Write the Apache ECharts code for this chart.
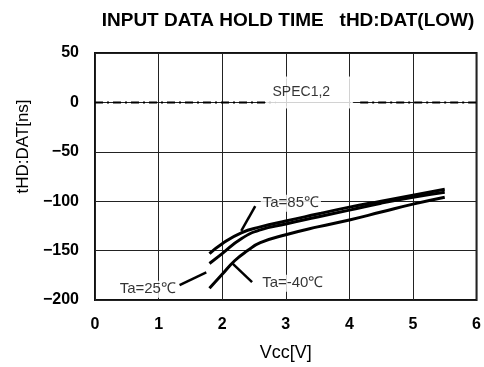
<!DOCTYPE html>
<html><head><meta charset="utf-8">
<script src="https://cdn.jsdelivr.net/npm/echarts@6/dist/echarts.min.js"></script>
<style>html,body{margin:0;padding:0;background:#fff}#c{width:484px;height:367px}</style>
</head><body><div id="c"></div>
<script>
const titleText = 'INPUT DATA HOLD TIME   tHD:DAT(LOW)';
const xTicks = [0, 1, 2, 3, 4, 5, 6];
const yTicks = [50, 0, -50, -100, -150, -200];
const vcc85 = [1.8, 2.0, 2.3, 2.6, 3.0, 3.5, 4.0, 4.5, 5.0, 5.5];
const ta85 = [-153, -143, -132, -126, -120, -113, -106, -100, -94, -88];
const vcc25 = [1.8, 2.0, 2.3, 2.6, 3.0, 3.5, 4.0, 4.5, 5.0, 5.5];
const ta25 = [-163, -153, -138, -129, -123, -116, -109, -102, -96, -91];
const vccM40 = [1.8, 2.0, 2.2, 2.4, 2.6, 3.0, 3.5, 4.0, 4.5, 5.0, 5.5];
const taM40 = [-188, -174, -160, -150, -142, -134, -126, -119, -111, -103, -96];
const specX = [0, 2.84, 3.5, 4.17, 6];
const specY = [0, 0, '-', 0, 0];
const specLabel = 'SPEC1,2';
const specLabelPos = [3.37, 10];
const curveLabels = ['Ta=85℃', 'Ta=25℃', 'Ta=-40℃'];
const labelPos = [[3.08, -102], [0.83, -189], [3.11, -183]];
const leaderFrom = [[2.52, -105], [1.33, -185], [2.16, -163]];
const leaderTo = [[2.30, -130], [1.75, -172], [2.47, -182]];

const zip = (xs, ys) => xs.map((x, i) => [x, ys[i]]);
const font = 'Liberation Sans, Arial, sans-serif';
const curveStyle = { color: '#000', width: 3 };
const numFmt = v => (v < 0 ? '\u2212' + Math.abs(v) : String(v));

const chart = echarts.init(document.getElementById('c'));
chart.setOption({
  animation: false,
  title: { text: titleText, left: 283, top: 6, textAlign: 'center',
    textStyle: { fontFamily: font, fontSize: 19, fontWeight: 'bold', color: '#000' } },
  grid: { left: 95, right: 4, top: 53, bottom: 64, show: true, borderColor: '#111', borderWidth: 2 },
  xAxis: { type: 'value', min: 0, max: 6, interval: 1,
    name: 'Vcc[V]', nameLocation: 'middle', nameGap: 44,
    nameTextStyle: { fontFamily: font, fontSize: 18, color: '#000' },
    axisLine: { show: false }, axisTick: { show: false },
    axisLabel: { fontFamily: font, fontSize: 16, fontWeight: 'bold', color: '#000', margin: 17, formatter: numFmt },
    splitLine: { lineStyle: { color: '#222', width: 1 } } },
  yAxis: { type: 'value', min: -200, max: 50, interval: 50,
    name: 'tHD:DAT[ns]', nameLocation: 'middle', nameGap: 50,
    nameTextStyle: { fontFamily: font, fontSize: 17, color: '#000', padding: [0, 0, 0, 60] },
    axisLine: { show: false }, axisTick: { show: false },
    axisLabel: { fontFamily: font, fontSize: 16, fontWeight: 'bold', color: '#000', margin: 16, formatter: numFmt },
    splitLine: { lineStyle: { color: '#222', width: 1 } } },
  series: [
    { name: 'spec', type: 'line', symbol: 'none', silent: true, connectNulls: false, data: zip(specX, specY),
      lineStyle: { color: '#000', width: 2, type: [8, 4, 2, 4] }, z: 3 },
    { name: curveLabels[0], type: 'line', smooth: true, symbol: 'none', data: zip(vcc85, ta85), lineStyle: curveStyle, z: 5 },
    { name: curveLabels[1], type: 'line', smooth: true, symbol: 'none', data: zip(vcc25, ta25), lineStyle: curveStyle, z: 5 },
    { name: curveLabels[2], type: 'line', smooth: true, symbol: 'none', data: zip(vccM40, taM40), lineStyle: curveStyle, z: 5 },
    { name: 'annotations', type: 'scatter', symbolSize: 0, silent: true, z: 10, zlevel: 1,
      data: labelPos.map((p, i) => ({ value: p, label: { show: true, position: 'inside', formatter: curveLabels[i],
        fontFamily: font, fontSize: 15, color: '#000', backgroundColor: '#fff', padding: [1, 2] } }))
        .concat([{ value: specLabelPos, label: { show: true, position: 'inside', formatter: specLabel,
          fontFamily: font, fontSize: 14, lineHeight: 16, color: '#000', backgroundColor: '#fff',
          borderColor: '#fff', borderWidth: 1, padding: [7, 22, 7, 6] } }]),
      markLine: { silent: true, symbol: 'none', label: { show: false },
        lineStyle: { color: '#000', width: 2.5, type: 'solid' },
        data: leaderFrom.map((p, i) => [{ coord: p }, { coord: leaderTo[i] }]) } }
  ]
});
</script></body></html>
